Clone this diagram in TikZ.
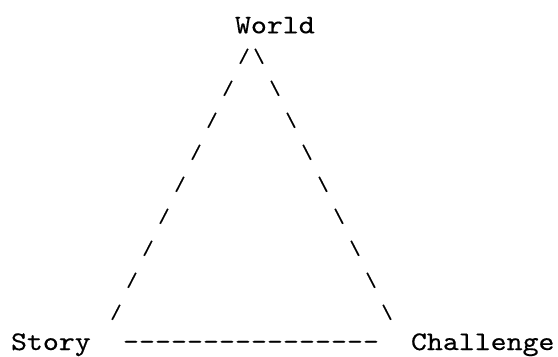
\documentclass[tikz,border=0pt]{standalone}
\usepackage{graphicx}
\usepackage{fontspec}
\newfontfamily\asciifont{lmmono10-regular.otf}[FakeBold=0.4]
\newcommand{\wch}[1]{\scalebox{1.129}[1]{#1}}
\newcommand{\sch}[1]{\scalebox{0.8}[0.74]{#1}}
\tikzset{
  txt/.style={inner sep=0pt, outer sep=0pt, anchor=base west, font=\fontsize{27}{32}\selectfont\asciifont},
  ch/.style={inner sep=0pt, outer sep=0pt, anchor=center, font=\fontsize{27}{32}\selectfont\asciifont},
}
\begin{document}
\begin{tikzpicture}[x=1bp,y=-1bp]
\useasboundingbox (0,0) rectangle (558,356);
\node[txt] (world) at (235,33.3) {\wch{World}};
\node[txt] (story) at (11,350) {\wch{Story}};
\node[txt] (challenge) at (411,350) {\wch{Challenge}};
\foreach \r in {1,...,9}{
  \node[ch] (l\r) at ({11+16*(15-\r)+9}, {33.3+32*\r-9}) {\sch{/}};
  \node[ch] (r\r) at ({11+16*(14+\r)+8}, {33.3+32*\r-9}) {\sch{\textbackslash}};
}
\foreach \c in {7,...,22}{
  \node[txt] (d\c) at ({11+16*\c}, 350) {\wch{-}};
}
\end{tikzpicture}
\end{document}
